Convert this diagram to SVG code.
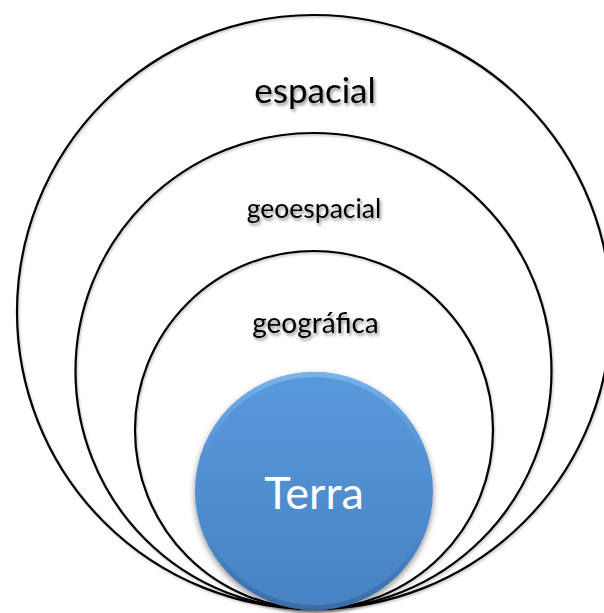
<svg xmlns="http://www.w3.org/2000/svg" width="604" height="613" viewBox="0 0 604 613">
  <defs>
    <style>
      .ring { fill: none; stroke: #000; stroke-width: 2.2; filter: url(#ringShadow); }
      .label { font-family: Lato, "Open Sans", "Liberation Sans", sans-serif; fill: #000; text-anchor: middle; filter: url(#textShadow); }
      .core-label { font-family: Lato, "Open Sans", "Liberation Sans", sans-serif; fill: #fff; text-anchor: middle; }
    </style>
    <filter id="textShadow" x="-20%" y="-40%" width="140%" height="180%">
      <feDropShadow dx="1.5" dy="2.5" stdDeviation="1.6" flood-color="#000" flood-opacity="0.45"/>
    </filter>
    <filter id="ringShadow" x="-5%" y="-5%" width="110%" height="110%">
      <feDropShadow dx="1" dy="1.5" stdDeviation="1" flood-color="#000" flood-opacity="0.25"/>
    </filter>
    <filter id="coreShadow" x="-20%" y="-20%" width="140%" height="140%">
      <feDropShadow dx="0" dy="3" stdDeviation="3" flood-color="#000" flood-opacity="0.45"/>
    </filter>
    <linearGradient id="coreFill" x1="0" y1="0" x2="0" y2="1">
      <stop offset="0" stop-color="#589ADC"/>
      <stop offset="1" stop-color="#4882C2"/>
    </linearGradient>
    <linearGradient id="coreRim" x1="0" y1="0" x2="0" y2="1">
      <stop offset="0" stop-color="#7DB5EC" stop-opacity="0.9"/>
      <stop offset="0.35" stop-color="#6AA6E2" stop-opacity="0"/>
      <stop offset="0.7" stop-color="#2F5F94" stop-opacity="0"/>
      <stop offset="1" stop-color="#2F5F94" stop-opacity="0.6"/>
    </linearGradient>
  </defs>

  <!-- nested spheres, all touching at the bottom -->
  <g id="espacial">
    <circle class="ring" cx="314" cy="312" r="297"/>
    <text class="label" x="315" y="103" font-size="35">espacial</text>
  </g>
  <g id="geoespacial">
    <circle class="ring" cx="313.5" cy="371" r="238"/>
    <text class="label" x="314" y="218" font-size="26.5">geoespacial</text>
  </g>
  <g id="geografica">
    <circle class="ring" cx="314" cy="430" r="179"/>
    <text class="label" x="315.5" y="333" font-size="28">geográfica</text>
  </g>

  <!-- Earth at the core -->
  <g id="terra">
    <circle cx="314" cy="491" r="119" fill="url(#coreFill)" filter="url(#coreShadow)"/>
    <circle cx="314" cy="491" r="116.5" fill="none" stroke="url(#coreRim)" stroke-width="5"/>
    <text class="core-label" x="314" y="509" font-size="45">Terra</text>
  </g>
</svg>
